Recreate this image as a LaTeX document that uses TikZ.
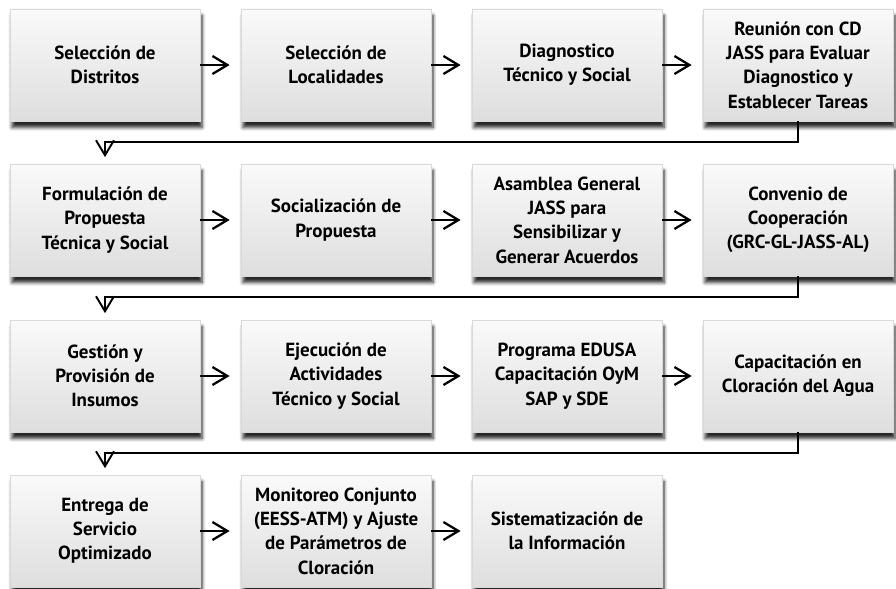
\documentclass[tikz,border=0pt]{standalone}
\usepackage{fontspec}
\setmainfont{PT Sans}
\usetikzlibrary{positioning,arrows.meta,shadows.blur}
\tikzset{paso/.style={minimum width=3.8cm, minimum height=2.24cm, inner sep=2pt, align=center, font=\bfseries\fontsize{10.8}{13.8}\selectfont, draw=gray!30, top color=gray!4, bottom color=gray!26, blur shadow={shadow xshift=0.4mm, shadow yshift=-1.3mm, shadow blur steps=6, shadow opacity=85}}}
\tikzset{flecha/.style={draw, -{Straight Barb[length=3mm,width=3.6mm]}, line width=1.3pt}}
\tikzset{bajada/.style={draw, -{Straight Barb[length=3mm,width=3.6mm]}, line width=1.1pt}}
\newcommand\bajarfila[2]{
			\draw[bajada] (#1.south) -- ++(0,-0.42) -| ([yshift=1.3mm]#2.north);
			}

\begin{document}
\begin{tikzpicture}
		\useasboundingbox (0,0) rectangle (17.92,-11.78);
		% fila 1
		\node[paso] (dist) at (2.10,-1.30) {Selección de\\Distritos};
		\node[paso] (loc) at (6.72,-1.30) {Selección de\\Localidades};
		\node[paso] (diag) at (11.34,-1.30) {Diagnostico\\Técnico y Social};
		\node[paso] (reun) at (15.96,-1.30) {Reunión con CD\\JASS para Evaluar\\Diagnostico y\\Establecer Tareas};
		% fila 2
		\node[paso] (form) at (2.10,-4.40) {Formulación de\\Propuesta\\Técnica y Social};
		\node[paso] (soc) at (6.72,-4.40) {Socialización de\\Propuesta};
		\node[paso] (asam) at (11.34,-4.40) {Asamblea General\\JASS para\\Sensibilizar y\\Generar Acuerdos};
		\node[paso] (conv) at (15.96,-4.40) {Convenio de\\Cooperación\\(GRC-GL-JASS-AL)};
		% fila 3
		\node[paso] (gest) at (2.10,-7.52) {Gestión y\\Provisión de\\Insumos};
		\node[paso] (ejec) at (6.72,-7.52) {Ejecución de\\Actividades\\Técnico y Social};
		\node[paso] (edusa) at (11.34,-7.52) {Programa EDUSA\\Capacitación OyM\\SAP y SDE};
		\node[paso] (capac) at (15.96,-7.52) {Capacitación en\\Cloración del Agua};
		% fila 4
		\node[paso] (entr) at (2.10,-10.62) {Entrega de\\Servicio\\Optimizado};
		\node[paso] (monit) at (6.72,-10.62) {Monitoreo Conjunto\\(EESS-ATM) y Ajuste\\de Parámetros de\\Cloración};
		\node[paso] (sist) at (11.34,-10.62) {Sistematización de\\la Información};

		\draw[flecha] (dist.east) -- ([xshift=-2.2mm]loc.west);
		\draw[flecha] (loc.east) -- ([xshift=-2.2mm]diag.west);
		\draw[flecha] (diag.east) -- ([xshift=-2.2mm]reun.west);
		\draw[flecha] (form.east) -- ([xshift=-2.2mm]soc.west);
		\draw[flecha] (soc.east) -- ([xshift=-2.2mm]asam.west);
		\draw[flecha] (asam.east) -- ([xshift=-2.2mm]conv.west);
		\draw[flecha] (gest.east) -- ([xshift=-2.2mm]ejec.west);
		\draw[flecha] (ejec.east) -- ([xshift=-2.2mm]edusa.west);
		\draw[flecha] (edusa.east) -- ([xshift=-2.2mm]capac.west);
		\draw[flecha] (entr.east) -- ([xshift=-2.2mm]monit.west);
		\draw[flecha] (monit.east) -- ([xshift=-2.2mm]sist.west);

		\bajarfila{reun}{form}
		\bajarfila{conv}{gest}
		\bajarfila{capac}{entr}
	\end{tikzpicture}
\end{document}
